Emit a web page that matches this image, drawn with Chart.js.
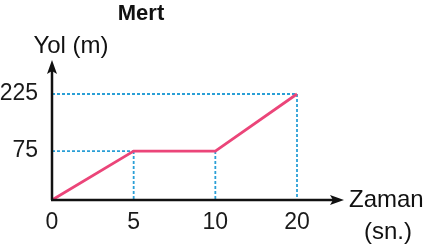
<!DOCTYPE html>
<html>
<head>
<meta charset="utf-8">
<script src="https://cdn.jsdelivr.net/npm/chart.js@4/dist/chart.umd.min.js"></script>
<style>
  html, body { margin: 0; padding: 0; background: #fff; }
  #wrap { width: 427px; height: 249px; }
</style>
</head>
<body>
<div id="wrap"><canvas id="myChart"></canvas></div>
<script>
const times = ['0', '5', '10', '20']
const distances = [0, 75, 75, 225]
const yTicks = [75, 225]
const guideTimes = ['5', '10', '20']

const FONT = '"Liberation Sans", Arial, sans-serif'
const PINK = '#eb4579'
const BLUE = '#2a9fd6'

// the book's y axis is not to scale, so stretch it piecewise
class WarpScale extends Chart.LinearScale {
    warpDecimal(d) {
        const stops = this.options.warp
        for (let i = 1; i < stops.length; i++) {
            const a = stops[i - 1], b = stops[i]
            if (d <= b[0] || i === stops.length - 1) {
                return a[1] + (d - a[0]) * (b[1] - a[1]) / (b[0] - a[0])
            }
        }
        return d
    }
    getPixelForValue(value) {
        if (value === null || value === undefined) return NaN
        const d = (value - this.min) / (this.max - this.min)
        return this.getPixelForDecimal(this.warpDecimal(d))
    }
    getValueForPixel(pixel) {
        const w = this.getDecimalForPixel(pixel)
        const stops = this.options.warp
        for (let i = 1; i < stops.length; i++) {
            const a = stops[i - 1], b = stops[i]
            if (w <= b[1] || i === stops.length - 1) {
                const d = a[0] + (w - a[1]) * (b[0] - a[0]) / (b[1] - a[1])
                return this.min + d * (this.max - this.min)
            }
        }
        return this.min + w * (this.max - this.min)
    }
}
WarpScale.id = 'warp'
WarpScale.defaults = Chart.LinearScale.defaults
Chart.register(WarpScale)

const arrow = (ctx, x, y, dir) => {
    ctx.beginPath()
    if (dir === 'up') {
        ctx.moveTo(x, y)
        ctx.lineTo(x - 5, y + 14)
        ctx.lineTo(x, y + 11)
        ctx.lineTo(x + 5, y + 14)
    } else {
        ctx.moveTo(x, y)
        ctx.lineTo(x - 14, y - 5)
        ctx.lineTo(x - 11, y)
        ctx.lineTo(x - 14, y + 5)
    }
    ctx.closePath()
    ctx.fill()
}

const sketch = {
    id: 'sketch',
    beforeDatasetsDraw(chart) {
        const { ctx, scales: { x, y } } = chart
        ctx.save()
        ctx.strokeStyle = BLUE
        ctx.lineWidth = 1.8
        ctx.setLineDash([3, 2])
        // horizontal guides from the y axis to the point
        yTicks.forEach(v => {
            const i = distances.indexOf(v)
            ctx.beginPath()
            ctx.moveTo(x.left, y.getPixelForValue(v))
            ctx.lineTo(x.getPixelForValue(i), y.getPixelForValue(v))
            ctx.stroke()
        })
        // vertical guides down to the x axis
        guideTimes.forEach(t => {
            const i = times.indexOf(t)
            ctx.beginPath()
            ctx.moveTo(x.getPixelForValue(i), y.getPixelForValue(distances[i]))
            ctx.lineTo(x.getPixelForValue(i), y.bottom)
            ctx.stroke()
        })
        ctx.restore()
    },
    afterDatasetsDraw(chart) {
        const { ctx, chartArea } = chart
        const ox = chartArea.left, oy = chartArea.bottom
        ctx.save()
        ctx.strokeStyle = '#111'
        ctx.fillStyle = '#111'
        ctx.lineWidth = 2.5
        ctx.beginPath()
        ctx.moveTo(ox, oy)
        ctx.lineTo(ox, 66)
        ctx.moveTo(ox - 1, oy)
        ctx.lineTo(338, oy)
        ctx.stroke()
        arrow(ctx, ox, 60, 'up')
        arrow(ctx, 344, oy, 'right')

        ctx.font = 'bold 22px ' + FONT
        ctx.textAlign = 'center'
        ctx.textBaseline = 'middle'
        ctx.fillText('Mert', 141, 14)
        ctx.font = '24px ' + FONT
        ctx.fillText('Yol (m)', 71, 46)
        ctx.textAlign = 'left'
        ctx.fillText('Zaman', 349, oy)
        ctx.textAlign = 'center'
        ctx.fillText('(sn.)', 388, 232)
        ctx.restore()
    }
}

const ctx = document.getElementById('myChart')
new Chart(ctx, {
    type: 'line',
    data: {
        labels: times,
        datasets: [{
            label: 'Mert',
            data: distances,
            borderColor: PINK,
            borderWidth: 2.8,
            pointRadius: 0,
            tension: 0,
            clip: false
        }]
    },
    options: {
        responsive: true,
        maintainAspectRatio: false,
        animation: false,
        layout: { padding: { top: 94, right: 130, left: 0, bottom: 0 } },
        plugins: {
            legend: { display: false },
            tooltip: { enabled: false },
            title: { display: false }
        },
        scales: {
            x: {
                type: 'category',
                offset: false,
                grid: { display: false },
                border: { display: false },
                ticks: {
                    color: '#1a1a1a',
                    font: { family: FONT, size: 23 },
                    padding: 1,
                    maxRotation: 0,
                    autoSkip: false
                },
                afterFit: scale => { scale.height = 49 }
            },
            y: {
                type: 'warp',
                min: 0,
                max: 225,
                warp: [[0, 0], [75 / 225, 0.462], [1, 1]],
                grid: { display: false },
                border: { display: false },
                afterBuildTicks: scale => { scale.ticks = yTicks.map(v => ({ value: v })) },
                ticks: {
                    color: '#1a1a1a',
                    font: { family: FONT, size: 23 },
                    padding: 6
                },
                afterFit: scale => { scale.width = 52 }
            }
        }
    },
    plugins: [sketch]
})
</script>
</body>
</html>
